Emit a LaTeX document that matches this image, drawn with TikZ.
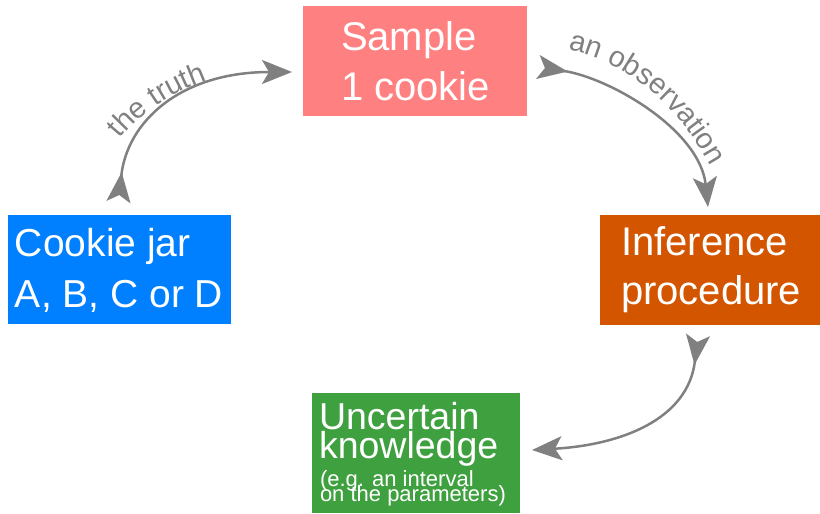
\documentclass[tikz,border=0pt]{standalone}
\usepackage{fontspec}
\setmainfont{Liberation Sans}
\usetikzlibrary{arrows.meta,decorations.text}
\definecolor{cpink}{HTML}{FF8080}
\definecolor{cblue}{HTML}{0080FF}
\definecolor{corange}{HTML}{D45500}
\definecolor{cgreen}{HTML}{3FA03F}
\definecolor{cgray}{HTML}{808080}
\newcommand{\bigtxt}{\fontsize{40}{47}\selectfont}
\newcommand{\jartxt}{\fontsize{39}{47}\selectfont}
\newcommand{\midtxt}{\fontsize{37.5}{45}\selectfont}
\newcommand{\smalltxt}{\fontsize{22}{26}\selectfont}
\newcommand{\labtxt}{\fontsize{29}{34}\selectfont}
\tikzset{
  box/.style={draw=none, inner sep=0pt, outer sep=0pt},
  txt/.style={inner sep=0pt, outer sep=0pt, anchor=base west, text=white},
  conn/.style={draw=cgray, line width=2.5pt,
    {Stealth[reversed,length=30pt,width=24pt,inset=7pt]}-{Stealth[length=30pt,width=24pt,inset=7pt]}},
  lab/.style={decorate, decoration={text along path, text align=left}}
}
\begin{document}
\begin{tikzpicture}[x=1pt,y=-1pt]
\useasboundingbox (0,0) rectangle (820,514);
% boxes
\node[box, fill=cpink, minimum width=224pt, minimum height=110pt] (sample) at (415,61) {};
\node[box, fill=cblue, minimum width=223pt, minimum height=109pt] (jar) at (119.5,269.5) {};
\node[box, fill=corange, minimum width=220pt, minimum height=110pt] (infer) at (710,270) {};
\node[box, fill=cgreen, minimum width=208pt, minimum height=120pt] (know) at (416,453) {};
% texts
\node[txt, font=\bigtxt] (sampleA) at (341,50) {Sample};
\node[txt, font=\bigtxt] (sampleB) at (341,100) {1 cookie};
\node[txt, font=\jartxt] (jarA) at (15,256) {Cookie jar};
\node[txt, font=\jartxt] (jarB) at (15,307) {A, B, C or D};
\node[txt, font=\bigtxt] (inferA) at (621,255) {Inference};
\node[txt, font=\bigtxt] (inferB) at (621,304) {procedure};
\node[txt, font=\midtxt] (knowA) at (319,429) {Uncertain};
\node[txt, font=\midtxt] (knowB) at (319,458) {knowledge};
\node[txt, font=\smalltxt] (knowC) at (320,486) {(e.g. an interval};
\node[txt, font=\smalltxt] (knowD) at (320,501) {on the parameters)};
% connectors
\coordinate (a1s) at (118.5,202);
\coordinate (a1e) at (292,72);
\coordinate (a2s) at (538,67);
\coordinate (a2e) at (708,207);
\coordinate (a3s) at (698,335);
\coordinate (a3e) at (532,450);
\draw[conn] (a1s) .. controls (127,122) and (180,72) .. (a1e);
\draw[conn] (a2s) .. controls (610,78) and (700,130) .. (a2e);
\draw[conn] (a3s) .. controls (688,420) and (620,445) .. (a3e);
% labels
\path[lab, decoration={text={|\labtxt\color{cgray}|the truth}}]
  (120,139) .. controls (140,115) and (172,86) .. (255,66);
\path[lab, decoration={text={|\labtxt\color{cgray}|an observation}}]
  (568,50) .. controls (620,60) and (682,98) .. (728,200);
\end{tikzpicture}
\end{document}
